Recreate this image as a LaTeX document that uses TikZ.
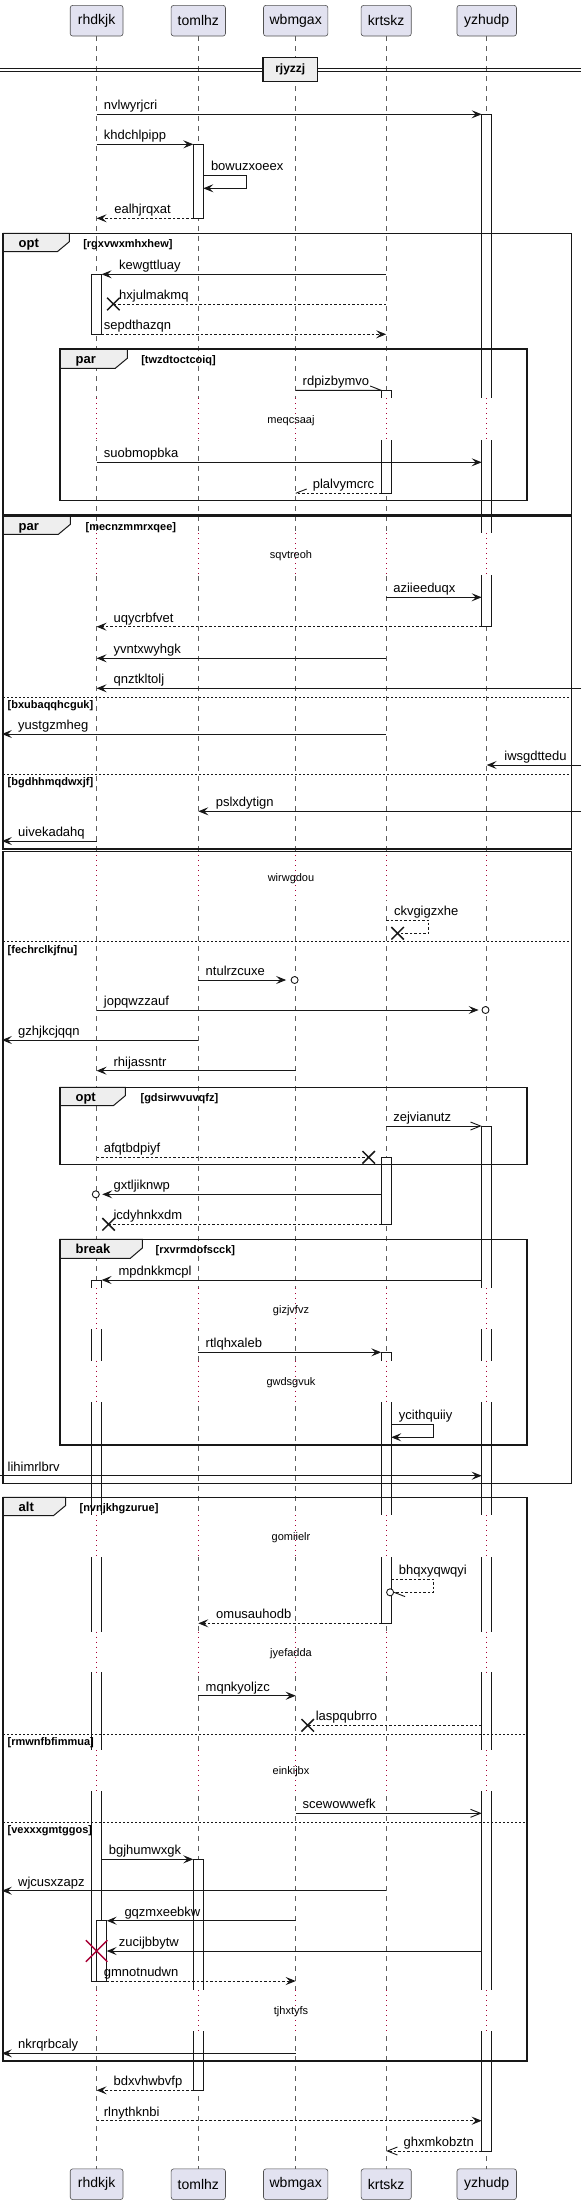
\documentclass[tikz,border=0pt]{standalone}
\usepackage{fontspec}
\setmainfont{Liberation Sans}
\usetikzlibrary{arrows.meta, shapes.misc}

\definecolor{partfill}{HTML}{E2E2F0}
\definecolor{tabfill}{HTML}{EEEEEE}
\definecolor{delayred}{HTML}{A80036}
\definecolor{ink}{HTML}{181818}

\tikzset{
  partbox/.style={draw=ink!75, fill=partfill, rounded corners=2.5pt, line width=0.6pt,
    minimum height=30.7pt, inner sep=0pt, font=\fontsize{14}{16}\selectfont},
  lifeline/.style={draw=ink!70, line width=0.6pt, dash pattern=on 5pt off 5pt},
  delayline/.style={draw=delayred, line width=0.9pt, dash pattern=on 1pt off 4pt},
  actbar/.style={draw=ink, fill=white, line width=0.8pt},
  barbline/.style={draw=ink, line width=0.9pt},
  retline/.style={barbline, dash pattern=on 2.5pt off 2pt},
  msg/.style={barbline, -{Stealth[length=10pt,width=8pt,inset=4pt]}},
  retmsg/.style={msg, dash pattern=on 2.5pt off 2pt},
  openmsg/.style={barbline, -{Straight Barb[length=10pt,width=8pt]}},
  msglbl/.style={anchor=base west, inner sep=0pt, font=\fontsize{13}{15}\selectfont},
  delaylbl/.style={inner sep=0pt, font=\fontsize{11}{13}\selectfont},
  grpframe/.style={draw=ink, line width=1.5pt},
  grptab/.style={draw=ink, fill=tabfill, line width=1pt},
  tablbl/.style={anchor=base west, inner sep=0pt, font=\bfseries\fontsize{13}{15}\selectfont},
  condlbl/.style={anchor=base west, inner sep=0pt, font=\bfseries\fontsize{11}{13}\selectfont},
  elseline/.style={draw=ink, line width=0.8pt, dash pattern=on 2pt off 2pt},
  lostx/.style={draw=ink, cross out, line width=1.5pt, minimum size=11pt, inner sep=0pt},
  killx/.style={draw=delayred, cross out, line width=1.5pt, minimum size=20pt, inner sep=0pt},
  endo/.style={draw=ink, circle, fill=white, line width=0.9pt, minimum size=7pt, inner sep=0pt},
}

\begin{document}
\begin{tikzpicture}[x=1pt, y=-1pt]
  \def\xrh{96.6}
  \def\xto{198.3}
  \def\xwb{295.7}
  \def\xkr{386.2}
  \def\xyz{486.7}

  \useasboundingbox (0,0) rectangle (581,2205);
  \fill[white] (0,0) rectangle (581,2205);

  % participants, top and bottom
  \node[partbox, minimum width=52.8pt] (rhdkjk) at (\xrh,20.7) {rhdkjk};
  \node[partbox, minimum width=54.3pt] (tomlhz) at (\xto,20.7) {tomlhz};
  \node[partbox, minimum width=64.4pt] (wbmgax) at (\xwb,20.7) {wbmgax};
  \node[partbox, minimum width=50.1pt] (krtskz) at (\xkr,20.7) {krtskz};
  \node[partbox, minimum width=59.5pt] (yzhudp) at (\xyz,20.7) {yzhudp};
  \node[partbox, minimum width=52.8pt] (rhdkjk-end) at (\xrh,2184.2) {rhdkjk};
  \node[partbox, minimum width=54.3pt] (tomlhz-end) at (\xto,2184.2) {tomlhz};
  \node[partbox, minimum width=64.4pt] (wbmgax-end) at (\xwb,2184.2) {wbmgax};
  \node[partbox, minimum width=50.1pt] (krtskz-end) at (\xkr,2184.2) {krtskz};
  \node[partbox, minimum width=59.5pt] (yzhudp-end) at (\xyz,2184.2) {yzhudp};

  \foreach \p in {rhdkjk,tomlhz,wbmgax,krtskz,yzhudp} {
    \draw[lifeline] (\p.south) -- (\p-end.north);
  }

  % activations
  \foreach \x/\a/\b in {\xyz/114.3/626.7, \xto/144.3/218.3, \xrh/274.3/334.3,
      \xkr/390.3/493.3, \xyz/1126/2151, \xkr/1157.3/1224.3, \xrh/1280/1981,
      \xkr/1352.3/1623.3, \xto/1859.3/2090.3} {
    \draw[actbar] (\x-5,\a) rectangle (\x+5,\b);
  }
  \draw[actbar] (\xrh,1920.7) rectangle (\xrh+10.1,1981);

  % delays
  \foreach \a/\b in {398.3/440, 533.3/575, 855/900, 1288.3/1329.3, 1360.7/1402.3,
      1515/1556.7, 1631.7/1672.3, 1750/1791, 1990/2031} {
    \foreach \x in {\xrh,\xto,\xwb,\xkr,\xyz} {
      \fill[white] (\x-6.5,\a) rectangle (\x+6.5,\b);
      \draw[delayline] (\x,\a) -- (\x,\b);
    }
  }
  \node[delaylbl] (meqcsaaj) at (291,420.7) {meqcsaaj};
  \node[delaylbl] (sqvtreoh) at (291,555.5) {sqvtreoh};
  \node[delaylbl] (wirwgdou) at (291,878.3) {wirwgdou};
  \node[delaylbl] (gizjvfvz) at (291,1310.7) {gizjvfvz};
  \node[delaylbl] (gwdsgvuk) at (291,1382.7) {gwdsgvuk};
  \node[delaylbl] (gomiielr) at (291,1537.3) {gomiielr};
  \node[delaylbl] (jyefadda) at (291,1653.3) {jyefadda};
  \node[delaylbl] (einkijbx) at (291,1771.7) {einkijbx};
  \node[delaylbl] (tjhxtyfs) at (291,2011.7) {tjhxtyfs};

  % separator
  \draw[ink, line width=1pt] (0,68.3) -- (581,68.3) (0,71.7) -- (581,71.7);
  \node[draw=ink, fill=tabfill, line width=1.5pt, minimum width=54.2pt, minimum height=24.4pt,
    inner sep=0pt, font=\bfseries\fontsize{12}{14}\selectfont] (rjyzzj) at (290.3,69.5) {rjyzzj};

  % groups
  \filldraw[grptab] (3,233.3) -- (69.3,233.3) -- (69.3,241.7) -- (57.3,251.7) -- (3,251.7) -- cycle;
  \draw[grpframe] (3,233.3) rectangle (571.6,514.5);
  \node[tablbl] (optA) at (18.5,247.3) {opt};
  \node[condlbl] (condA) at (83.1,247.3) {[rgxvwxmhxhew]};

  \filldraw[grptab] (59.9,349) -- (127.3,349) -- (127.3,358.3) -- (115.3,368.3) -- (59.9,368.3) -- cycle;
  \draw[grpframe] (59.9,349) rectangle (527.1,500.7);
  \node[tablbl] (parA) at (75.4,363) {par};
  \node[condlbl] (condB) at (141.1,363) {[twzdtoctcoiq]};

  \filldraw[grptab] (3,516) -- (70.4,516) -- (70.4,524.3) -- (58.4,534.3) -- (3,534.3) -- cycle;
  \draw[grpframe] (3,516) rectangle (571.6,849);
  \node[tablbl] (parB) at (18.5,530) {par};
  \node[condlbl] (condC) at (85.4,530) {[mecnzmmrxqee]};
  \draw[elseline] (3,697.3) -- (571.6,697.3);
  \node[condlbl] (condD) at (7.5,708.8) {[bxubaqqhcguk]};
  \draw[elseline] (3,774) -- (571.6,774);
  \node[condlbl] (condE) at (7.5,785.5) {[bgdhhmqdwxjf]};

  \draw[grpframe] (3,851.5) rectangle (571.6,1483.3);
  \draw[elseline] (3,941.7) -- (571.6,941.7);
  \node[condlbl] (condF) at (7.5,953.2) {[fechrclkjfnu]};

  \filldraw[grptab] (59.9,1087.3) -- (125.4,1087.3) -- (125.4,1095.6) -- (113.4,1105.6) -- (59.9,1105.6) -- cycle;
  \draw[grpframe] (59.9,1087.3) rectangle (527.1,1164.3);
  \node[tablbl] (optB) at (75.4,1101.3) {opt};
  \node[condlbl] (condG) at (140.4,1101.3) {[gdsirwvuvqfz]};

  \filldraw[grptab] (59.9,1239.3) -- (142.3,1239.3) -- (142.3,1248) -- (130.3,1258.3) -- (59.9,1258.3) -- cycle;
  \draw[grpframe] (59.9,1239.3) rectangle (527.1,1445);
  \node[tablbl] (breakA) at (75.4,1253.3) {break};
  \node[condlbl] (condH) at (155.4,1253.3) {[rxvrmdofscck]};

  \filldraw[grptab] (3,1497.3) -- (65.5,1497.3) -- (65.5,1505.6) -- (53.5,1515.6) -- (3,1515.6) -- cycle;
  \draw[grpframe] (3,1497.3) rectangle (527.1,2061);
  \node[tablbl] (altA) at (18.5,1511.3) {alt};
  \node[condlbl] (condI) at (79.4,1511.3) {[nvnjkhgzurue]};
  \draw[elseline] (3,1734.3) -- (527.1,1734.3);
  \node[condlbl] (condJ) at (7.5,1745.8) {[rmwnfbfimmua]};
  \draw[elseline] (3,1822.3) -- (527.1,1822.3);
  \node[condlbl] (condK) at (7.5,1833.8) {[vexxxgmtggos]};

  % messages
  \draw[msg] (\xrh,114.3) -- (\xyz-5,114.3);
  \node[msglbl] (nvlwyrjcri) at (103.7,109.6) {nvlwyrjcri};
  \draw[msg] (\xrh,144.3) -- (\xto-5,144.3);
  \node[msglbl] (khdchlpipp) at (103.7,139.6) {khdchlpipp};
  \draw[msg] (\xto+5,175) -- (246.3,175) -- (246.3,188.3) -- (\xto+5,188.3);
  \node[msglbl] (bowuzxoeex) at (210.8,170.3) {bowuzxoeex};
  \draw[retmsg] (\xto-5,218.3) -- (\xrh,218.3);
  \node[msglbl] (ealhjrqxat) at (114.2,213.6) {ealhjrqxat};
  \draw[msg] (\xkr,274.3) -- (\xrh+5,274.3);
  \node[msglbl] (kewgttluay) at (119,269.6) {kewgttluay};
  \node[lostx] (lostA) at (113.4,304) {};
  \draw[retline] (\xkr,304) -- (lostA.center);
  \node[msglbl] (hxjulmakmq) at (119,299.3) {hxjulmakmq};
  \draw[retmsg] (\xrh+5,334.3) -- (\xkr,334.3);
  \node[msglbl] (sepdthazqn) at (103.7,329.6) {sepdthazqn};
  \draw[barbline] (\xwb,390.3) -- (\xkr-5,390.3) -- ++(-11,-4.3);
  \node[msglbl] (rdpizbymvo) at (302.5,385.6) {rdpizbymvo};
  \draw[msg] (\xrh,462.3) -- (\xyz-5,462.3);
  \node[msglbl] (suobmopbka) at (103.7,457.6) {suobmopbka};
  \draw[retline] (\xkr-5,493.3) -- (\xwb,493.3);
  \draw[barbline] (\xwb,493.3) -- ++(11,-4.3);
  \node[msglbl] (plalvymcrc) at (312.6,488.6) {plalvymcrc};
  \draw[msg] (\xkr,597.3) -- (\xyz-5,597.3);
  \node[msglbl] (aziieeduqx) at (393.1,592.6) {aziieeduqx};
  \draw[retmsg] (\xyz-5,626.7) -- (\xrh,626.7);
  \node[msglbl] (uqycrbfvet) at (113.4,622) {uqycrbfvet};
  \draw[msg] (\xkr,658.3) -- (\xrh,658.3);
  \node[msglbl] (yvntxwyhgk) at (113.4,653.6) {yvntxwyhgk};
  \draw[msg] (581,688.3) -- (\xrh,688.3);
  \node[msglbl] (qnztkltolj) at (113.4,683.6) {qnztkltolj};
  \draw[msg] (\xkr,734) -- (1.9,734);
  \node[msglbl] (yustgzmheg) at (18,729.3) {yustgzmheg};
  \draw[msg] (581,765) -- (\xyz,765);
  \node[msglbl] (iwsgdttedu) at (504.2,760.3) {iwsgdttedu};
  \draw[msg] (581,811.3) -- (\xto,811.3);
  \node[msglbl] (pslxdytign) at (215.6,806.6) {pslxdytign};
  \draw[msg] (\xrh,841) -- (1.9,841);
  \node[msglbl] (uivekadahq) at (18,836.3) {uivekadahq};
  \node[lostx] (lostB) at (397.6,933.3) {};
  \draw[retline] (\xkr,920) -- (428.6,920) -- (428.6,933.3) -- (lostB.center);
  \node[msglbl] (ckvgigzxhe) at (393.8,915.3) {ckvgigzxhe};
  \node[endo] (endA) at (294.6,980) {};
  \draw[msg, shorten >=4.5pt] (\xto,980) -- (endA.west);
  \node[msglbl] (ntulrzcuxe) at (205.5,975.3) {ntulrzcuxe};
  \node[endo] (endB) at (485.5,1010) {};
  \draw[msg, shorten >=3pt] (\xrh,1010) -- (endB.west);
  \node[msglbl] (jopqwzzauf) at (103.7,1005.3) {jopqwzzauf};
  \draw[msg] (\xto,1040) -- (1.9,1040);
  \node[msglbl] (gzhjkcjqqn) at (18,1035.3) {gzhjkcjqqn};
  \draw[msg] (\xwb,1070.7) -- (\xrh,1070.7);
  \node[msglbl] (rhijassntr) at (113.4,1066) {rhijassntr};
  \draw[openmsg] (\xkr,1126) -- (\xyz-5,1126);
  \node[msglbl] (zejvianutz) at (393.1,1121.3) {zejvianutz};
  \node[lostx] (lostC) at (368.7,1157.3) {};
  \draw[retline] (\xrh,1157.3) -- (lostC.center);
  \node[msglbl] (afqtbdpiyf) at (103.7,1152.6) {afqtbdpiyf};
  \node[endo] (endC) at (95.8,1194.3) {};
  \draw[msg, shorten >=2.5pt] (\xkr-5,1194.3) -- (endC.east);
  \node[msglbl] (gxtljiknwp) at (113.4,1189.6) {gxtljiknwp};
  \node[lostx] (lostD) at (108.6,1224.3) {};
  \draw[retline] (\xkr-5,1224.3) -- (lostD.center);
  \node[msglbl] (icdyhnkxdm) at (113.4,1219.6) {icdyhnkxdm};
  \draw[msg] (\xyz-5,1280) -- (\xrh+5,1280);
  \node[msglbl] (mpdnkkmcpl) at (118.3,1275.3) {mpdnkkmcpl};
  \draw[msg] (\xto,1352.3) -- (\xkr-5,1352.3);
  \node[msglbl] (rtlqhxaleb) at (205.5,1347.6) {rtlqhxaleb};
  \draw[msg] (\xkr+5,1424.3) -- (433.5,1424.3) -- (433.5,1437.3) -- (\xkr+5,1437.3);
  \node[msglbl] (ycithquiiy) at (398.7,1419.6) {ycithquiiy};
  \draw[msg] (0,1475.7) -- (\xyz-5,1475.7);
  \node[msglbl] (lihimrlbrv) at (7.5,1471) {lihimrlbrv};
  \node[endo] (endD) at (390.1,1592.3) {};
  \draw[retline] (\xkr+5,1579.3) -- (433.5,1579.3) -- (433.5,1592.3) -- (endD.east);
  \draw[barbline] (endD.east) -- ++(11,4.3);
  \node[msglbl] (bhqxyqwqyi) at (398.7,1574.6) {bhqxyqwqyi};
  \draw[retmsg] (\xkr-5,1623.3) -- (\xto,1623.3);
  \node[msglbl] (omusauhodb) at (216,1618.6) {omusauhodb};
  \draw[msg] (\xto,1695.7) -- (\xwb,1695.7);
  \node[msglbl] (mqnkyoljzc) at (205.5,1691) {mqnkyoljzc};
  \node[lostx] (lostE) at (307.7,1725.3) {};
  \draw[retline] (\xyz-5,1725.3) -- (lostE.center);
  \node[msglbl] (laspqubrro) at (315.6,1720.6) {laspqubrro};
  \draw[openmsg] (\xwb,1813.3) -- (\xyz-5,1813.3);
  \node[msglbl] (scewowwefk) at (302.5,1808.6) {scewowwefk};
  \draw[msg] (\xrh+5,1859.3) -- (\xto-5,1859.3);
  \node[msglbl] (bgjhumwxgk) at (108.6,1854.6) {bgjhumwxgk};
  \draw[msg] (\xkr,1890.7) -- (1.9,1890.7);
  \node[msglbl] (wjcusxzapz) at (18,1886) {wjcusxzapz};
  \draw[msg] (\xwb,1920.7) -- (\xrh+10.1,1920.7);
  \node[msglbl] (gqzmxeebkw) at (124.3,1916) {gqzmxeebkw};
  \draw[msg] (\xyz-5,1951) -- (\xrh+10.1,1951);
  \node[msglbl] (zucijbbytw) at (118.7,1946.3) {zucijbbytw};
  \node[killx] (killA) at (\xrh,1951) {};
  \draw[retmsg] (\xrh+10.1,1981) -- (\xwb,1981);
  \node[msglbl] (gmnotnudwn) at (103.7,1976.3) {gmnotnudwn};
  \draw[msg] (\xwb,2053.3) -- (1.9,2053.3);
  \node[msglbl] (nkrqrbcaly) at (18,2048.6) {nkrqrbcaly};
  \draw[retmsg] (\xto-5,2090.3) -- (\xrh,2090.3);
  \node[msglbl] (bdxvhwbvfp) at (113.4,2085.6) {bdxvhwbvfp};
  \draw[retmsg] (\xrh,2120.7) -- (\xyz-5,2120.7);
  \node[msglbl] (rlnythknbi) at (103.7,2116) {rlnythknbi};
  \draw[openmsg, dash pattern=on 2.5pt off 2pt] (\xyz-5,2151) -- (\xkr,2151);
  \node[msglbl] (ghxmkobztn) at (403.5,2146.3) {ghxmkobztn};
\end{tikzpicture}
\end{document}
